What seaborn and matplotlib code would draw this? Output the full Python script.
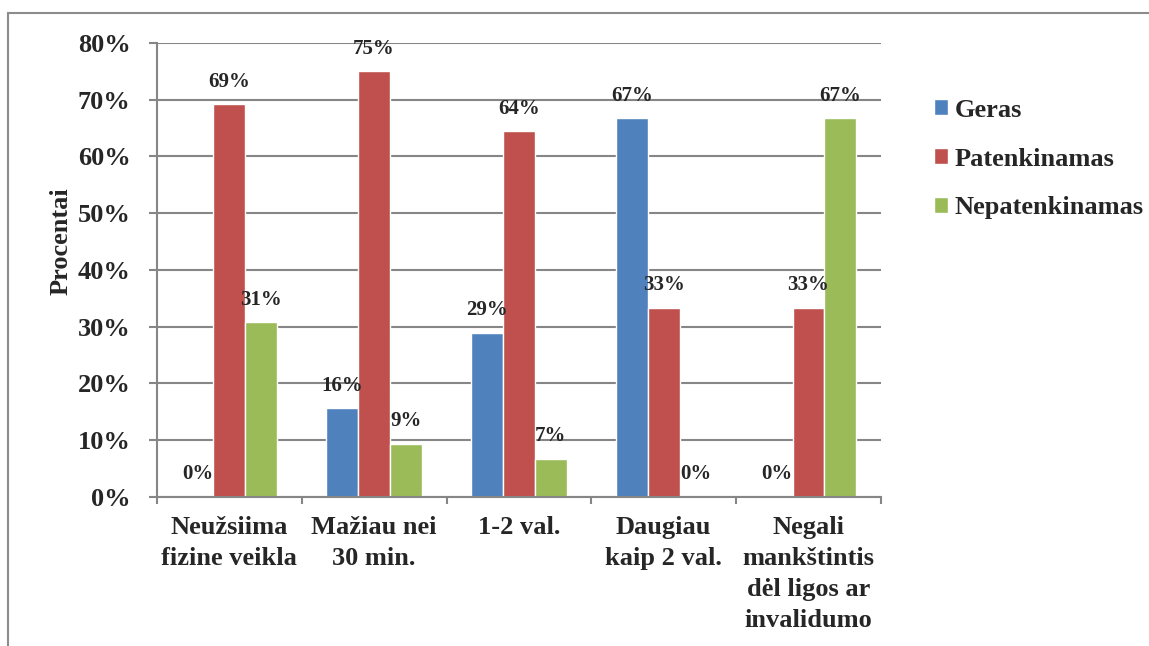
import pandas as pd
import numpy as np
import matplotlib.pyplot as plt
import seaborn as sns
from matplotlib.patches import Rectangle
from matplotlib.ticker import PercentFormatter

kategorijos = ['Neužsiima\nfizine veikla', 'Mažiau nei\n30 min.', '1-2 val.',
               'Daugiau\nkaip 2 val.', 'Negali\nmankštintis\ndėl ligos ar\ninvalidumo']
geras = [0, 15.6, 28.9, 66.7, 0]
patenkinamas = [69.2, 75.0, 64.4, 33.3, 33.3]
nepatenkinamas = [30.8, 9.4, 6.7, 0, 66.7]
grupes = ['Geras', 'Patenkinamas', 'Nepatenkinamas']
spalvos = ['#4F81BD', '#C0504D', '#9BBB59']

dados = pd.DataFrame({
    'Kategorija': kategorijos * 3,
    'Grupe': np.repeat(grupes, len(kategorijos)),
    'Procentai': geras + patenkinamas + nepatenkinamas,
})

sns.set_style('white')
plt.rcParams['font.family'] = ['Liberation Serif', 'DejaVu Serif']
plt.rcParams['font.weight'] = 'bold'

fig = plt.figure(figsize=(11.49, 6.46), dpi=100)
ax = fig.add_axes([0.1366, 0.2307, 0.630, 0.7028])

sns.barplot(data=dados, x='Kategorija', y='Procentai', hue='Grupe',
            palette=spalvos, width=0.66, saturation=1, ax=ax, legend=True)

# etiketes virs stulpeliu
for cont in ax.containers:
    ax.bar_label(cont, labels=[f'{v:.0f}%' for v in cont.datavalues],
                 padding=9, fontsize=15, fontweight='bold')

ax.set_ylim(0, 80)
ax.set_xlim(-0.5, 4.5)
ax.set_yticks(range(0, 81, 10))
ax.yaxis.set_major_formatter(PercentFormatter(decimals=0))
ax.grid(axis='y', color='#868686', linewidth=1.5)
ax.set_axisbelow(True)

ax.set_xticks(np.arange(-0.5, 5, 1), minor=True)
ax.tick_params(axis='x', which='major', length=0, pad=13.5, labelsize=19)
ax.tick_params(axis='x', which='minor', length=5, width=1.5, color='#868686', direction='out', bottom=True)
ax.tick_params(axis='y', length=6, width=1.5, color='#868686', direction='out', left=True, labelsize=19, pad=13)
for lab in ax.get_xticklabels():
    lab.set_fontweight('bold')
    lab.set_linespacing(1.45)
for lab in ax.get_yticklabels():
    lab.set_fontweight('bold')

for s in ['top', 'right']:
    ax.spines[s].set_visible(False)
for s in ['left', 'bottom']:
    ax.spines[s].set_color('#868686')
    ax.spines[s].set_linewidth(1.5)

ax.set_xlabel('')
ax.set_ylabel('Procentai', fontsize=19, fontweight='bold')
ax.yaxis.set_label_coords(-0.117, 0.564)

ax.legend(title=None, loc='upper left', bbox_to_anchor=(0.792, 0.884),
          bbox_transform=fig.transFigure, frameon=False,
          prop={'size': 19, 'weight': 'bold'}, handlelength=0.55, handleheight=0.55,
          handletextpad=0.25, labelspacing=0.98)

fig.patches.append(Rectangle((8 / 1149, -0.05), 1.1, 1 - 13 / 646 + 0.05,
                             transform=fig.transFigure, fill=False,
                             edgecolor='#8c8c8c', linewidth=1.5))

fig.savefig('out.png', dpi=100)
